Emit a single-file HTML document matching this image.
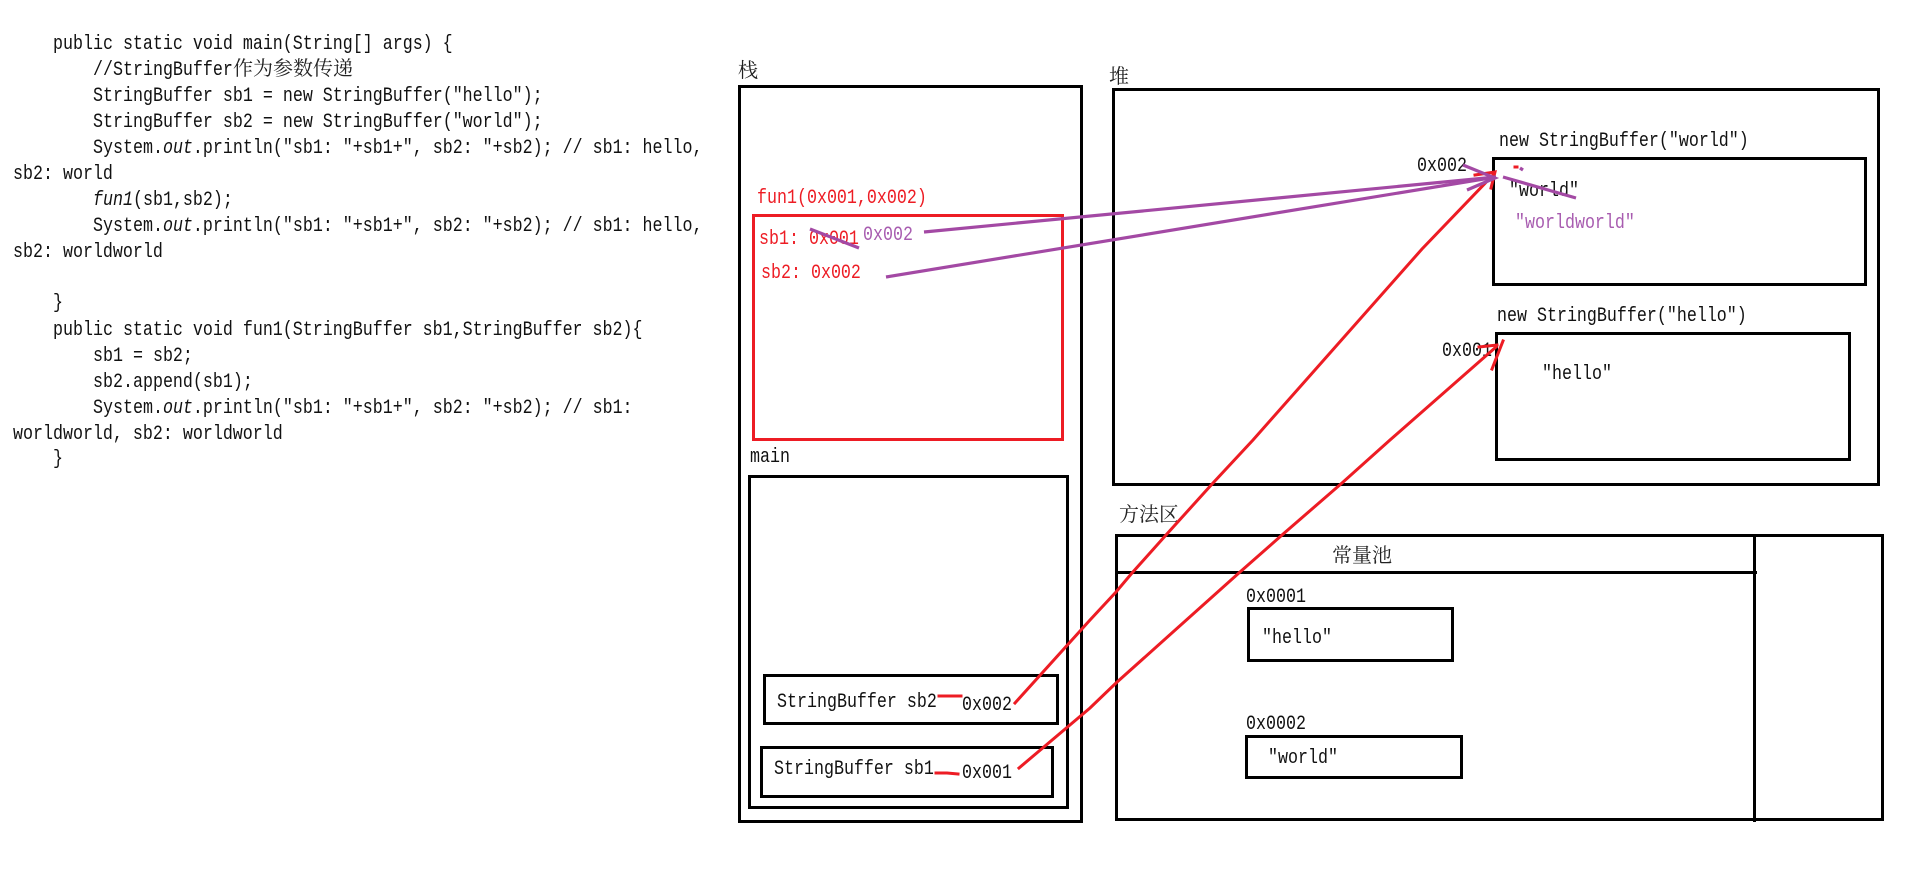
<!DOCTYPE html>
<html><head><meta charset="utf-8"><style>
html,body{margin:0;padding:0;background:#fff;width:1914px;height:875px;overflow:hidden}
svg{display:block}
text{white-space:pre}
.m{font-family:"Liberation Mono","Noto Serif CJK SC",monospace;font-size:20px;fill:#111}
.c{font-family:"Liberation Serif","Noto Serif CJK SC",serif;font-size:20px;fill:#222}
.r{fill:#ed1c24}.p{fill:#a85cb0}
.b rect,.b path{fill:none;stroke:#000;stroke-width:3}
.rl{fill:none;stroke:#ed1c24;stroke-width:3;stroke-linecap:square}
.pl{fill:none;stroke:#a349a4;stroke-width:3.2}
</style></head><body>
<svg width="1914" height="875" viewBox="0 0 1914 875" xmlns="http://www.w3.org/2000/svg">
<rect width="1914" height="875" fill="#fff"/>
<!-- code -->
<text class="m" transform="matrix(.8333 0 0 1 53 49)">public static void main(String[] args) {</text>
<text class="m" transform="matrix(.8333 0 0 1 93 75)">//StringBuffer</text>
<text class="c" x="233" y="75">作为参数传递</text>
<text class="m" transform="matrix(.8333 0 0 1 93 101)">StringBuffer sb1 = new StringBuffer("hello");</text>
<text class="m" transform="matrix(.8333 0 0 1 93 127)">StringBuffer sb2 = new StringBuffer("world");</text>
<text class="m" transform="matrix(.8333 0 0 1 93 153)">System.<tspan font-style="italic">out</tspan>.println("sb1: "+sb1+", sb2: "+sb2); // sb1: hello,</text>
<text class="m" transform="matrix(.8333 0 0 1 13 179)">sb2: world</text>
<text class="m" transform="matrix(.8333 0 0 1 93 205)"><tspan font-style="italic">fun1</tspan>(sb1,sb2);</text>
<text class="m" transform="matrix(.8333 0 0 1 93 231)">System.<tspan font-style="italic">out</tspan>.println("sb1: "+sb1+", sb2: "+sb2); // sb1: hello,</text>
<text class="m" transform="matrix(.8333 0 0 1 13 257)">sb2: worldworld</text>
<text class="m" transform="matrix(.8333 0 0 1 53 308)">}</text>
<text class="m" transform="matrix(.8333 0 0 1 53 335)">public static void fun1(StringBuffer sb1,StringBuffer sb2){</text>
<text class="m" transform="matrix(.8333 0 0 1 93 361)">sb1 = sb2;</text>
<text class="m" transform="matrix(.8333 0 0 1 93 387)">sb2.append(sb1);</text>
<text class="m" transform="matrix(.8333 0 0 1 93 413)">System.<tspan font-style="italic">out</tspan>.println("sb1: "+sb1+", sb2: "+sb2); // sb1:</text>
<text class="m" transform="matrix(.8333 0 0 1 13 439)">worldworld, sb2: worldworld</text>
<text class="m" transform="matrix(.8333 0 0 1 53 464)">}</text>

<!-- boxes -->
<g class="b">
<rect x="739.5" y="86.5" width="342" height="735"/>
<rect x="749.5" y="476.5" width="318" height="331"/>
<rect x="764.5" y="675.5" width="293" height="48"/>
<rect x="761.5" y="747.5" width="291" height="49"/>
<rect x="1113.5" y="89.5" width="765" height="395"/>
<rect x="1493.5" y="158.5" width="372" height="126"/>
<rect x="1496.5" y="333.5" width="353" height="126"/>
<rect x="1116.5" y="535.5" width="766" height="284"/>
<path d="M1754.5 534V822M1116 572.5H1757"/>
<rect x="1248.5" y="608.5" width="204" height="52"/>
<rect x="1246.5" y="736.5" width="215" height="41"/>
</g>
<rect x="753.5" y="215.5" width="309" height="224" fill="none" stroke="#ed1c24" stroke-width="3"/>

<!-- labels -->
<text class="c" x="738" y="77">栈</text>
<text class="c" x="1109" y="83">堆</text>
<text class="c" x="1119" y="521">方法区</text>
<text class="c" x="1332" y="562">常量池</text>
<text class="m" transform="matrix(.8333 0 0 1 750 462)">main</text>
<text class="m r" transform="matrix(.8333 0 0 1 757 203)">fun1(0x001,0x002)</text>
<text class="m r" transform="matrix(.8333 0 0 1 759 244)">sb1: 0x001</text>
<text class="m p" transform="matrix(.8333 0 0 1 863 240)">0x002</text>
<text class="m r" transform="matrix(.8333 0 0 1 761 278)">sb2: 0x002</text>
<text class="m" transform="matrix(.8333 0 0 1 1499 146)">new StringBuffer("world")</text>
<text class="m" transform="matrix(.8333 0 0 1 1497 321)">new StringBuffer("hello")</text>
<text class="m" transform="matrix(.8333 0 0 1 1417 171)">0x002</text>
<text class="m" transform="matrix(.8333 0 0 1 1509 196)">"world"</text>
<text class="m p" transform="matrix(.8333 0 0 1 1515 228)">"worldworld"</text>
<text class="m" transform="matrix(.8333 0 0 1 1442 356)">0x001</text>
<text class="m" transform="matrix(.8333 0 0 1 1542 379)">"hello"</text>
<text class="m" transform="matrix(.8333 0 0 1 777 707)">StringBuffer sb2</text>
<text class="m" transform="matrix(.8333 0 0 1 962 710)">0x002</text>
<text class="m" transform="matrix(.8333 0 0 1 774 774)">StringBuffer sb1</text>
<text class="m" transform="matrix(.8333 0 0 1 962 778)">0x001</text>
<text class="m" transform="matrix(.8333 0 0 1 1246 602)">0x0001</text>
<text class="m" transform="matrix(.8333 0 0 1 1246 729)">0x0002</text>
<text class="m" transform="matrix(.8333 0 0 1 1262 643)">"hello"</text>
<text class="m" transform="matrix(.8333 0 0 1 1268 763)">"world"</text>

<!-- red connectors -->
<path class="rl" d="M1015 703L1090 620L1116 592L1132 573L1166 535L1213 483L1253 440L1422 249L1493 175"/>
<path class="rl" d="M1475 175L1495 172L1491 188"/>
<path class="rl" d="M1019 768L1090 708L1116 683L1240 572L1282 535L1342 483L1390 440L1496 347"/>
<path class="rl" d="M1479 347L1497 345"/>
<path class="rl" d="M1503 341L1492 369"/>
<path class="rl" d="M939 696H961"/>
<path class="rl" d="M936 773L947 773L958 774"/>
<path class="rl" d="M1515 167H1517"/>

<!-- purple connectors -->
<path class="pl" d="M924 232L1496 177"/>
<path class="pl" d="M886 277L1496 177"/>
<path class="pl" d="M810 229L859 248"/>
<path class="pl" d="M1463 165L1495 178L1467 190"/>
<path class="pl" d="M1503 177L1576 198"/>
<path class="pl" d="M1520 168L1523 170"/>
</svg>
</body></html>
